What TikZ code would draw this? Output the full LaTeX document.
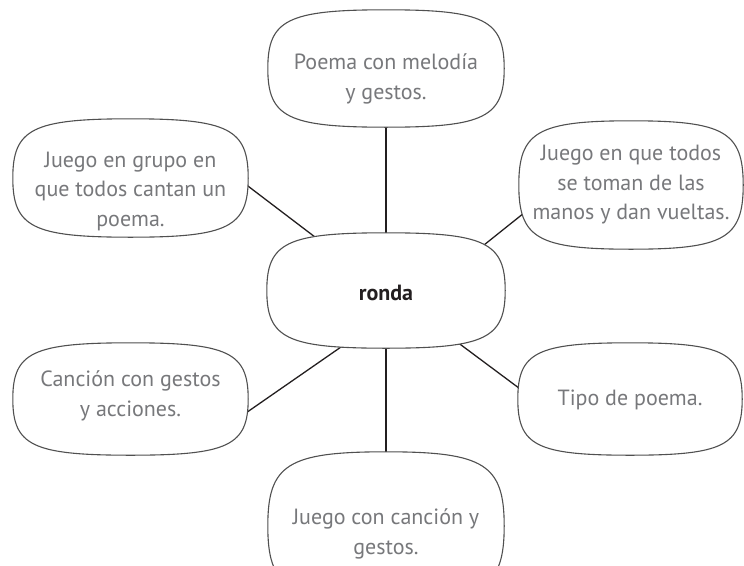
\documentclass[tikz,border=0pt]{standalone}
\usepackage{fontspec}
\setmainfont{PT Sans}
\usetikzlibrary{calc}

\pgfdeclarelayer{wires}
\pgfdeclarelayer{shapes}
\pgfsetlayers{wires,shapes,main}

\definecolor{txtgray}{RGB}{119,120,123}
\definecolor{rimgray}{RGB}{80,80,80}
\definecolor{inkblack}{RGB}{35,31,32}

% rounded "pillow" outline round a node
\def\bk{0.83}
\newcommand{\pillowpath}[1]{%
  (#1.north) .. controls ($(#1.north)!\bk!(#1.north east)$) and ($(#1.east)!\bk!(#1.north east)$) .. (#1.east)
  .. controls ($(#1.east)!\bk!(#1.south east)$) and ($(#1.south)!\bk!(#1.south east)$) .. (#1.south)
  .. controls ($(#1.south)!\bk!(#1.south west)$) and ($(#1.west)!\bk!(#1.south west)$) .. (#1.west)
  .. controls ($(#1.west)!\bk!(#1.north west)$) and ($(#1.north)!\bk!(#1.north west)$) .. cycle}

\begin{document}
\begin{tikzpicture}[x=1pt,y=-1pt,
    pillow/.style={draw=none,inner sep=0pt},
    words/.style={align=center,text=txtgray,inner sep=0pt,
      font=\fontsize{22}{29.5}\selectfont},
    pillow rim/.style={draw=rimgray,line width=1.1pt,fill=white},
    wire/.style={draw=inkblack,line width=1.3pt,shorten <=-30pt,shorten >=-30pt}]

    \useasboundingbox (0,0) rectangle (744,565);

    % the pillows
    \node[pillow,minimum width=236,minimum height=117] (top) at (386,68.5) {};
    \node[pillow,minimum width=235,minimum height=118] (tl)  at (130.5,178) {};
    \node[pillow,minimum width=224,minimum height=128] (tr)  at (631,185) {};
    \node[pillow,minimum width=238,minimum height=115] (mid) at (386,290.5) {};
    \node[pillow,minimum width=235,minimum height=112] (bl)  at (130.5,399) {};
    \node[pillow,minimum width=224,minimum height=112] (br)  at (630,399) {};
    \node[pillow,minimum width=236,minimum height=148] (bot) at (386,526) {};

    % their texts
    \node[words] (top text) at (386,79)  {Poema con melodía\\y gestos.};
    \node[words] (tl text)  at (130.5,191) {Juego en grupo en\\que todos cantan un\\poema.};
    \node[words] (tr text)  at (631,185) {Juego en que todos\\se toman de las\\manos y dan vueltas.};
    \node[words,text=inkblack,font=\fontsize{22}{29.5}\selectfont\bfseries] (mid text) at (386,292.5) {ronda};
    \node[words] (bl text)  at (130.5,396) {Canción con gestos\\y acciones.};
    \node[words] (br text)  at (630,400) {Tipo de poema.};
    \node[words] (bot text) at (386,534) {Juego con canción y\\gestos.};

    \begin{pgfonlayer}{wires}
        \draw[wire] (top.south) -- (mid.north);
        \draw[wire] (tl.-4.6) -- (mid.143);
        \draw[wire] (tr.196.3) -- (mid.27.1);
        \draw[wire] (bl.-6.1) -- (mid.231);
        \draw[wire] (br.174.4) -- (mid.-36.2);
        \draw[wire] (bot.north) -- (mid.south);
    \end{pgfonlayer}

    \begin{pgfonlayer}{shapes}
        \foreach \n in {top,tl,tr,mid,bl,br,bot}
            \draw[pillow rim] \pillowpath{\n};
    \end{pgfonlayer}
\end{tikzpicture}
\end{document}
